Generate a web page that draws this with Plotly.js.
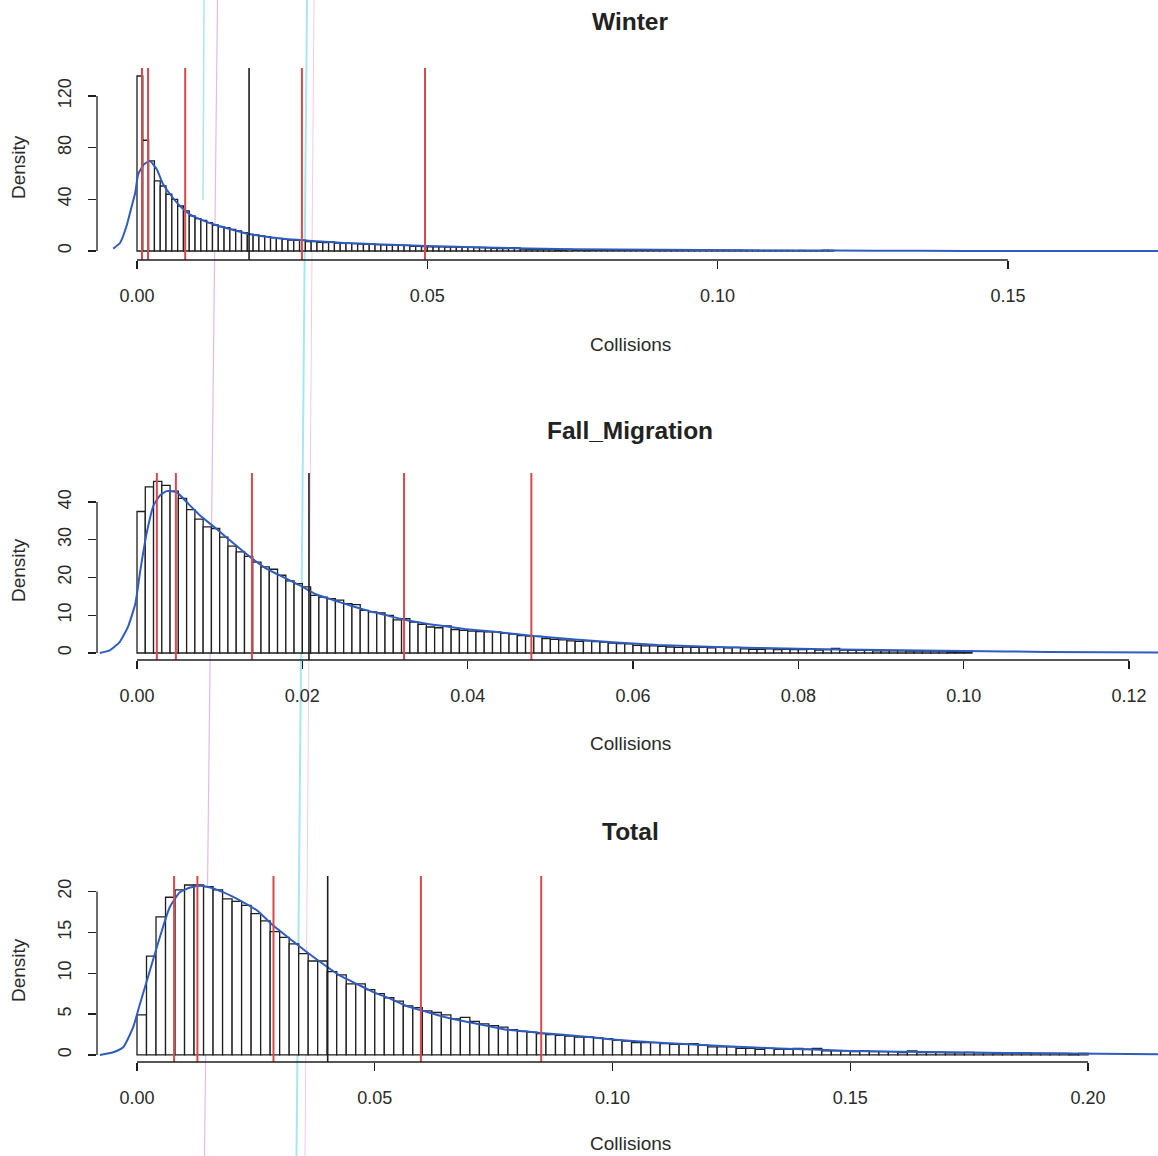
<!DOCTYPE html>
<html>
<head>
<meta charset="utf-8">
<script src="https://cdn.plot.ly/plotly-3.0.1.min.js"></script>
<style>html,body{margin:0;padding:0;background:#fff;}#chart{width:1158px;height:1156px;}</style>
</head>
<body>
<div id="chart"></div>
<script>
// ---------------- DATA ----------------
const panelTitles = ["Winter", "Fall_Migration", "Total"];
const xAxisTitle = "Collisions";
const yAxisTitle = "Density";

// Histogram densities (bins start at 0)
const winterBinWidth = 0.001;
const winterHist = [135.4,85.7,69.7,54.2,50.3,43.9,40.0,34.8,31.0,27.1,25.0,23.7,21.9,20.1,18.8,18.1,16.8,15.5,14.2,12.9,12.4,11.6,11.1,10.3,9.8,9.0,8.5,8.3,8.3,7.2,7.2,6.7,6.4,7.0,6.2,5.9,5.9,5.7,
  5.4,5.2,5.4,5.0,4.8,4.6,4.7,4.4,4.3,3.6,3.5,3.4,3.3,3.2,3.2,3.0,3.0,2.9,2.9,2.8,2.7,2.7,2.5,2.0,1.9,1.8,2.6,2.4,
  1.4,1.3,1.3,1.2,1.3,1.2,1.1,1.1,1.2,1.0,1.0,1.1,1.0,0.9,
  0.9,0.9,0.8,0.9,0.8,0.8,0.8,0.7,0.8,0.7,0.7,0.7,0.6,0.7,0.6,0.6,0.6,0.6,0.5,0.6,
  0.5,0.5,0.5,0.5,0.5,0.4,0.5,0.4,0.4,0.4,0.4,0.4,0.4,0.3,0.4,0.3,0.3,0.3,0.6,0.5];

const fallBinWidth = 0.001;
const fallHist = [37.5,44.0,45.5,44.4,42.9,41.0,38.0,35.5,33.4,33.0,30.7,28.3,26.8,25.6,24.1,22.8,22.2,20.6,19.1,18.4,17.5,15.3,14.8,14.4,14.0,13.1,12.8,11.3,10.9,10.6,10.0,8.8,9.1,8.2,7.6,6.9,6.7,7.2,6.2,6.0,5.8,5.7,5.6,
  5.6,5.2,5.0,4.6,4.5,4.4,3.8,3.6,3.5,3.2,3.1,3.2,3.0,2.9,2.6,2.5,2.4,2.0,1.9,1.9,1.8,
  1.6,1.5,1.6,1.5,1.5,1.4,1.5,1.4,1.5,
  1.1,1.0,1.0,1.1,0.9,1.0,0.9,0.9,1.0,0.8,0.9,1.2,
  0.8,0.7,0.7,0.7,0.6,0.6,0.6,0.6,0.5,0.5,0.5,0.5,0.5,0.4,0.4,0.4];

const totalBinWidth = 0.002;
const totalHist = [4.9,12.1,16.9,19.3,20.2,20.8,20.8,20.6,20.2,19.1,18.8,18.3,17.3,16.4,15.1,14.4,13.6,12.4,11.5,11.5,10.2,9.8,8.7,8.7,8.0,7.5,7.0,6.6,6.0,5.8,5.4,5.2,4.9,4.4,4.6,4.1,3.8,3.6,3.4,3.1,2.9,2.8,2.6,2.5,2.4,
  2.3,2.2,2.2,2.1,2.0,1.8,1.7,1.5,1.5,1.5,1.4,1.3,1.3,1.4,1.2,1.0,1.0,1.0,
  0.8,0.8,0.7,0.8,0.7,0.7,0.8,0.7,0.8,
  0.5,0.5,0.5,0.4,0.5,0.4,0.4,0.4,
  0.3,0.5,
  0.3,0.3,0.3,0.25,0.25,0.3,0.25,0.25,0.2,0.2,0.2,0.25,0.2,0.2,0.2,0.2,0.15,0.2];

// Kernel density curves
const winterKdeX = [-0.0041,-0.0029,-0.0018,-0.0009,-0.0003,0.0002,0.0012,0.0022,0.0034,0.0045,0.0057,0.0074,0.0091,0.0109,0.0137,0.0166,0.0195,0.0223,0.0252,0.0281,0.0310,0.0338,0.0373,0.045,0.055,0.065,0.075,0.09,0.105,0.12,0.135,0.15,0.176];
const winterKdeY = [1.8,6.4,19.3,34.8,45.1,59.3,67.0,69.7,63.2,51.6,43.9,34.8,28.4,24.5,19.9,16.3,12.9,11.1,9.5,8.5,7.5,6.7,5.9,4.7,3.2,2.2,1.4,0.9,0.5,0.3,0.1,0.05,0.02];

const fallKdeX = [-0.0045,-0.0033,-0.0021,-0.0011,-0.0002,0.0004,0.0012,0.0020,0.0028,0.0036,0.0048,0.0060,0.0076,0.0096,0.0117,0.0137,0.0157,0.0177,0.0197,0.0217,0.0238,0.0258,0.0278,0.0298,0.0318,0.0338,0.0358,0.0379,0.0399,0.0435,0.048,0.053,0.058,0.063,0.070,0.080,0.090,0.100,0.110,0.1235];
const fallKdeY = [0,0.7,2.9,6.9,13.1,21.9,32.1,39.1,41.8,42.9,42.6,40.0,36.5,32.9,29.0,25.4,22.3,20.1,17.9,15.5,14.0,12.6,11.3,10.2,9.1,8.2,7.5,6.9,6.3,5.6,4.5,3.6,2.8,2.1,1.6,1.1,0.8,0.55,0.3,0.15];

const totalKdeX = [-0.0078,-0.0050,-0.0029,-0.0008,0.0006,0.0027,0.0048,0.0069,0.0090,0.0112,0.0133,0.0154,0.0182,0.0217,0.0252,0.0287,0.0322,0.0357,0.0392,0.0427,0.0462,0.0497,0.0532,0.0567,0.0602,0.0637,0.0672,0.0707,0.0742,0.0778,0.0812,0.0848,0.0890,0.095,0.100,0.110,0.120,0.130,0.140,0.150,0.160,0.175,0.190,0.2147];
const totalKdeY = [0,0.33,0.94,3.4,6.2,10.3,14.4,18.1,19.9,20.5,20.7,20.5,19.9,18.9,17.7,15.8,14.2,12.6,11.1,9.7,8.7,7.7,6.9,6.0,5.4,4.8,4.3,3.9,3.5,3.1,2.9,2.7,2.5,2.2,1.9,1.5,1.2,0.9,0.7,0.5,0.4,0.3,0.2,0.1];

// Vertical reference lines: quantiles (red) and mean (black)
const winterQuantiles = [0.00086,0.0019,0.0083,0.0284,0.0496];
const winterMean = [0.0193];
const fallQuantiles = [0.0024,0.0047,0.0139,0.0323,0.0477];
const fallMean = [0.0208];
const totalQuantiles = [0.0078,0.0127,0.0287,0.0597,0.0850];
const totalMean = [0.0401];

// Tick labels
const winterXTicks = [0, 0.05, 0.10, 0.15];
const winterXLabels = ["0.00","0.05","0.10","0.15"];
const winterYTicks = [0, 40, 80, 120];
const fallXTicks = [0, 0.02, 0.04, 0.06, 0.08, 0.10, 0.12];
const fallXLabels = ["0.00","0.02","0.04","0.06","0.08","0.10","0.12"];
const fallYTicks = [0, 10, 20, 30, 40];
const totalXTicks = [0, 0.05, 0.10, 0.15, 0.20];
const totalXLabels = ["0.00","0.05","0.10","0.15","0.20"];
const totalYTicks = [0, 5, 10, 15, 20];

// ---------------- CHART ----------------
const W = 1158, H = 1156;
const FONT = "Liberation Sans, Arial, sans-serif";
const INK = "#1e1e1e";
const RED = "#d9484a";
const BLUE = "#2f5cc0";

const panels = [
  {hist: winterHist, bw: winterBinWidth, kx: winterKdeX, ky: winterKdeY, q: winterQuantiles, m: winterMean,
   xt: winterXTicks, xl: winterXLabels, yt: winterYTicks,
   xr: [-0.00689, 0.17585], yr: [-6.97, 141.6], top: 68, bot: 260, titleY: 22, xtitleY: 344, ytitleY: 167},
  {hist: fallHist, bw: fallBinWidth, kx: fallKdeX, ky: fallKdeY, q: fallQuantiles, m: fallMean,
   xt: fallXTicks, xl: fallXLabels, yt: fallYTicks,
   xr: [-0.00484, 0.1235], yr: [-1.85, 47.7], top: 473, bot: 660, titleY: 430, xtitleY: 743, ytitleY: 570},
  {hist: totalHist, bw: totalBinWidth, kx: totalKdeX, ky: totalKdeY, q: totalQuantiles, m: totalMean,
   xt: totalXTicks, xl: totalXLabels, yt: totalYTicks,
   xr: [-0.00841, 0.2147], yr: [-0.86, 21.9], top: 876, bot: 1062, titleY: 831, xtitleY: 1143, ytitleY: 970}
];

const traces = [];
const shapes = [];
const annotations = [];
const layout = {
  width: W, height: H,
  margin: {l: 0, r: 0, t: 0, b: 0},
  paper_bgcolor: "#ffffff", plot_bgcolor: "#ffffff",
  showlegend: false, bargap: 0,
  font: {family: FONT, color: INK}
};

panels.forEach((p, i) => {
  const n = i === 0 ? "" : String(i + 1);
  const xa = "x" + n, ya = "y" + n;
  const centers = p.hist.map((_, k) => (k + 0.5) * p.bw);
  traces.push({
    type: "bar", x: centers, y: p.hist, width: p.bw, xaxis: xa, yaxis: ya,
    marker: {color: "#ffffff", line: {color: INK, width: 1.3}}, hoverinfo: "skip"
  });
  traces.push({
    type: "scatter", mode: "lines", x: p.kx, y: p.ky, xaxis: xa, yaxis: ya,
    line: {color: BLUE, width: 2, shape: "spline", smoothing: 0.5}, hoverinfo: "skip"
  });
  p.q.forEach(v => shapes.push({type: "line", xref: xa, yref: ya + " domain", x0: v, x1: v, y0: 0, y1: 1,
    line: {color: RED, width: 2}}));
  p.m.forEach(v => shapes.push({type: "line", xref: xa, yref: ya + " domain", x0: v, x1: v, y0: 0, y1: 1,
    line: {color: INK, width: 1.6}}));
  // R-style axis lines spanning only the tick range
  shapes.push({type: "line", xref: xa, yref: ya + " domain", x0: p.xt[0], x1: p.xt[p.xt.length - 1], y0: 0, y1: 0,
    line: {color: INK, width: 1.3}});
  shapes.push({type: "line", xref: xa + " domain", yref: ya, x0: 0, x1: 0, y0: p.yt[0], y1: p.yt[p.yt.length - 1],
    line: {color: INK, width: 1.3}});

  const dom = [1 - p.bot / H, 1 - p.top / H];
  layout["xaxis" + n] = {
    domain: [97 / W, 1], range: p.xr, anchor: ya,
    tickvals: p.xt, ticktext: p.xl, ticks: "outside", ticklen: 8, tickwidth: 1.3, tickcolor: INK,
    showline: false, showgrid: false, zeroline: false, fixedrange: true,
    tickfont: {family: FONT, size: 18, color: "#2a2a2a"}, ticklabelstandoff: 11
  };
  layout["yaxis" + n] = {
    domain: dom, range: p.yr, anchor: xa,
    tickvals: p.yt, ticks: "outside", ticklen: 8, tickwidth: 1.3, tickcolor: INK, tickangle: -90,
    showline: false, showgrid: false, zeroline: false, fixedrange: true,
    tickfont: {family: FONT, size: 18, color: "#2a2a2a"}, ticklabelstandoff: 10
  };

  annotations.push({text: "<b>" + panelTitles[i] + "</b>", xref: "paper", yref: "paper",
    x: 630 / W, y: 1 - p.titleY / H, xanchor: "center", yanchor: "middle", showarrow: false,
    font: {family: FONT, size: 24.5, color: "#222"}});
  annotations.push({text: xAxisTitle, xref: "paper", yref: "paper",
    x: 630 / W, y: 1 - p.xtitleY / H, xanchor: "center", yanchor: "middle", showarrow: false,
    font: {family: FONT, size: 19, color: "#2a2a2a"}});
  annotations.push({text: yAxisTitle, xref: "paper", yref: "paper", textangle: -90,
    x: 18 / W, y: 1 - p.ytitleY / H, xanchor: "center", yanchor: "middle", showarrow: false,
    font: {family: FONT, size: 19, color: "#2a2a2a"}});
});

// faint scan streaks visible on the original page
shapes.push({type: "line", xref: "paper", yref: "paper", x0: 307 / W, y0: 1, x1: 296.5 / W, y1: 0, layer: "below",
  line: {color: "rgba(120,218,236,0.65)", width: 2}});
shapes.push({type: "line", xref: "paper", yref: "paper", x0: 314 / W, y0: 1, x1: 305 / W, y1: 0, layer: "below",
  line: {color: "rgba(225,170,225,0.6)", width: 1}});
shapes.push({type: "line", xref: "paper", yref: "paper", x0: 217.5 / W, y0: 1, x1: 204.5 / W, y1: 0, layer: "below",
  line: {color: "rgba(215,160,215,0.7)", width: 1.2}});
shapes.push({type: "line", xref: "paper", yref: "paper", x0: 204 / W, y0: 1, x1: 203 / W, y1: 1 - 200 / H, layer: "below",
  line: {color: "rgba(140,215,240,0.7)", width: 1.5}});

layout.shapes = shapes;
layout.annotations = annotations;

Plotly.newPlot("chart", traces, layout, {staticPlot: true, displayModeBar: false});
</script>
</body>
</html>
